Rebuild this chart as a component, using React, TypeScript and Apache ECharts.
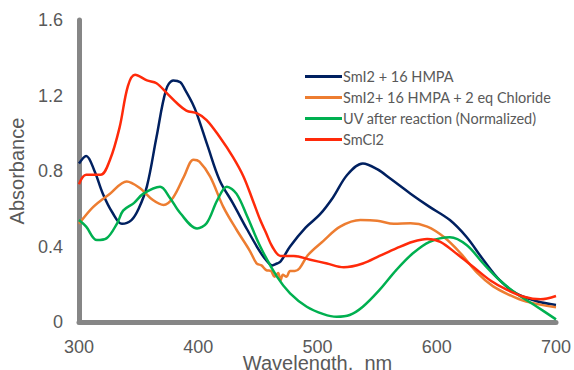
import React, { useEffect, useRef } from "react";
import * as echarts from "echarts";

const seriesNames = [
  "SmI2 + 16 HMPA",
  "SmI2+ 16 HMPA + 2 eq Chloride",
  "UV after reaction (Normalized)",
  "SmCl2",
];
const seriesColors = ["#002060", "#ED7D31", "#00B050", "#FF2A0A"];

const xTicks = [300, 400, 500, 600, 700];
const yTicks = [0, 0.4, 0.8, 1.2, 1.6];

// SmI2 + 16 HMPA
const navyWl = [300, 306, 313, 320, 328, 336, 344, 350, 357, 365, 373, 379, 385, 389, 395, 399, 408, 418, 429, 441, 452, 458, 462, 466, 469, 477, 490, 502, 513, 525, 538, 550, 561, 578, 594, 611, 625, 639, 653, 667, 684, 700];
const navyAbs = [0.84, 0.88, 0.8, 0.68, 0.58, 0.52, 0.54, 0.6, 0.72, 0.98, 1.23, 1.28, 1.27, 1.23, 1.16, 1.1, 0.93, 0.75, 0.63, 0.49, 0.37, 0.32, 0.3, 0.31, 0.32, 0.4, 0.5, 0.57, 0.66, 0.78, 0.84, 0.81, 0.76, 0.68, 0.61, 0.54, 0.45, 0.33, 0.22, 0.15, 0.11, 0.09];

// SmI2 + 16 HMPA + 2 eq Chloride
const orangeWl = [300, 312, 326, 340, 351, 362, 371, 379, 388, 396, 401, 410, 421, 432, 443, 449, 453, 457, 461, 464, 467, 469, 471, 474, 477, 481, 485, 492, 505, 519, 536, 550, 564, 578, 592, 606, 620, 634, 647, 661, 675, 700];
const orangeAbs = [0.52, 0.61, 0.68, 0.745, 0.71, 0.646, 0.62, 0.66, 0.77, 0.86, 0.85, 0.77, 0.61, 0.49, 0.38, 0.31, 0.3, 0.275, 0.27, 0.24, 0.26, 0.22, 0.25, 0.24, 0.27, 0.27, 0.285, 0.355, 0.43, 0.505, 0.54, 0.537, 0.52, 0.523, 0.505, 0.45, 0.364, 0.26, 0.19, 0.143, 0.108, 0.078];

// UV after reaction (Normalized)
const greenWl = [300, 306, 315, 323, 332, 337, 346, 354, 368, 376, 385, 399, 407, 416, 424, 432, 441, 452, 466, 477, 491, 505, 516, 527, 538, 552, 566, 580, 594, 611, 625, 639, 653, 667, 684, 700];
const greenAbs = [0.54, 0.505, 0.434, 0.443, 0.523, 0.59, 0.63, 0.68, 0.717, 0.66, 0.576, 0.496, 0.523, 0.646, 0.717, 0.68, 0.56, 0.4, 0.24, 0.152, 0.081, 0.042, 0.028, 0.037, 0.081, 0.17, 0.275, 0.364, 0.425, 0.449, 0.408, 0.31, 0.22, 0.15, 0.081, 0.014];

// SmCl2
const redWl = [300, 306, 318, 326, 334, 341, 347, 357, 365, 374, 382, 390, 399, 407, 418, 429, 438, 446, 452, 457, 462, 469, 480, 494, 508, 522, 538, 552, 566, 580, 592, 603, 617, 631, 645, 659, 673, 687, 700];
const redAbs = [0.73, 0.78, 0.78, 0.86, 1.03, 1.25, 1.31, 1.28, 1.265, 1.21, 1.16, 1.12, 1.105, 1.07, 0.98, 0.875, 0.77, 0.64, 0.54, 0.47, 0.4, 0.35, 0.35, 0.33, 0.31, 0.29, 0.31, 0.35, 0.39, 0.425, 0.44, 0.425, 0.36, 0.29, 0.22, 0.17, 0.134, 0.12, 0.138];

const wlSets = [navyWl, orangeWl, greenWl, redWl];
const absSets = [navyAbs, orangeAbs, greenAbs, redAbs];

export default function App() {
  const ref = useRef<HTMLDivElement>(null);
  useEffect(() => {
    if (!ref.current) return;
    const chart = echarts.init(ref.current, undefined, { renderer: "svg" });
    const axisFont = "'Liberation Sans', Arial, sans-serif";
    chart.setOption({
      animation: false,
      backgroundColor: "#ffffff",
      grid: { left: 79, right: 18, top: 20, bottom: 48, outerBoundsMode: "none" },
      legend: {
        orient: "vertical",
        left: 300,
        top: 64,
        icon: "rect",
        itemWidth: 37,
        itemHeight: 3,
        itemGap: 6,
        data: seriesNames,
        textStyle: {
          fontFamily: "Lato, 'Open Sans', sans-serif",
          fontSize: 14.5,
          lineHeight: 15,
          color: "#595959",
          padding: [0, 0, 0, -4],
        },
      },
      xAxis: {
        type: "value",
        min: xTicks[0],
        max: xTicks[xTicks.length - 1],
        interval: 100,
        name: "Wavelength,  nm",
        nameLocation: "middle",
        nameGap: 31,
        nameMoveOverlap: false,
        nameTextStyle: { fontFamily: axisFont, fontSize: 20, color: "#595959" },
        axisLine: { show: true, onZero: false, lineStyle: { color: "#868686", width: 5 } },
        axisTick: { show: false },
        splitLine: { show: false },
        axisLabel: { fontFamily: axisFont, fontSize: 18, color: "#595959", margin: 16 },
      },
      yAxis: {
        type: "value",
        min: yTicks[0],
        max: yTicks[yTicks.length - 1],
        interval: 0.4,
        name: "Absorbance",
        nameLocation: "middle",
        nameGap: 52,
        nameMoveOverlap: false,
        nameTextStyle: { fontFamily: axisFont, fontSize: 20, color: "#595959" },
        axisLine: { show: true, lineStyle: { color: "#868686", width: 5 } },
        axisTick: { show: false },
        splitLine: { show: false },
        axisLabel: {
          fontFamily: axisFont,
          fontSize: 18,
          color: "#595959",
          margin: 16,
          formatter: (v: number) => String(Math.round(v * 10) / 10),
        },
      },
      series: seriesNames.map((name, i) => ({
        name,
        type: "line",
        data: wlSets[i].map((w, j) => [w, absSets[i][j]]),
        smooth: 0.35,
        showSymbol: false,
        symbol: "none",
        color: seriesColors[i],
        lineStyle: { color: seriesColors[i], width: 2.5 },
        z: i === 3 ? 4 : 3,
      })),
    });
    return () => chart.dispose();
  }, []);
  return (
    <div
      ref={ref}
      style={{ position: "fixed", left: 0, top: 0, width: 574, height: 370 }}
    />
  );
}
